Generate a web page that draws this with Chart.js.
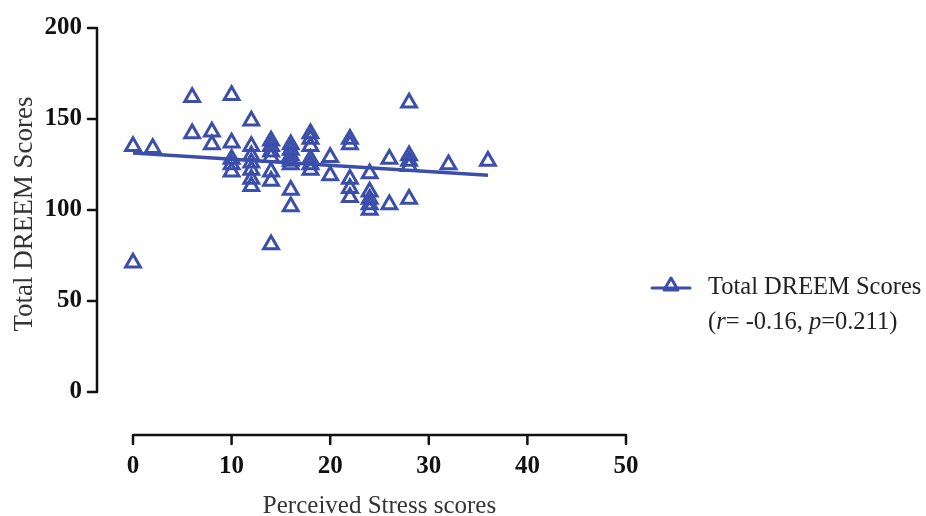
<!DOCTYPE html>
<html>
<head>
    <title>Total DREEM Scores vs Perceived Stress scores</title>
    <script src="https://cdn.jsdelivr.net/npm/chart.js"></script>
    <style>
        html, body { margin: 0; padding: 0; background: #fff; }
    </style>
</head>
<body>
    <canvas id="scatterChart" width="926" height="516"></canvas>

    <script>
        // Values (one entry per student)
        const stressScores = [
            0, 0,
            2,
            6, 6,
            8, 8,
            10, 10, 10, 10, 10,
            12, 12, 12, 12, 12, 12, 12,
            14, 14, 14, 14, 14, 14, 14,
            16, 16, 16, 16, 16, 16, 16,
            18, 18, 18, 18, 18, 18,
            20, 20,
            22, 22, 22, 22, 22,
            24, 24, 24, 24, 24,
            26, 26,
            28, 28, 28, 28, 28,
            32,
            36
        ];
        const dreemScores = [
            135, 71,
            134,
            162, 142,
            143, 136,
            163, 137, 128, 125, 121,
            149, 135, 130, 126, 122, 117, 113,
            138, 135, 132, 129, 121, 116, 81,
            136, 133, 130, 127, 125, 111, 102,
            142, 139, 135, 128, 125, 122,
            129, 119,
            139, 136, 117, 112, 107,
            120, 110, 106, 103, 100,
            128, 103,
            159, 130, 127, 124, 106,
            125,
            127
        ];

        // Regression line ends
        const fitX = [0, 36];
        const fitY = [131.3, 119.1];

        const xTicks = [0, 10, 20, 30, 40, 50];
        const yTicks = [0, 50, 100, 150, 200];

        const xTitle = "Perceived Stress scores";
        const yTitle = "Total DREEM Scores";
        const seriesName = "Total DREEM Scores";
        const statR = "-0.16";
        const statP = "0.211";

        const blue = "rgb(58, 78, 170)";
        const serif = "'Liberation Serif', 'Times New Roman', serif";

        const points = stressScores.map((s, i) => ({ x: s, y: dreemScores[i] }));
        const fitLine = fitX.map((s, i) => ({ x: s, y: fitY[i] }));

        // Prism-style detached axes, axis titles and legend
        const decorPlugin = {
            id: "decor",
            afterDraw(chart) {
                const ctx = chart.ctx;
                const x = chart.scales.x;
                const y = chart.scales.y;
                ctx.save();

                ctx.strokeStyle = "#111";
                ctx.lineWidth = 2.5;
                ctx.lineJoin = "round";
                ctx.lineCap = "round";

                // y axis
                const ax = x.left;
                const yTop = y.getPixelForValue(yTicks[yTicks.length - 1]);
                const yBot = y.getPixelForValue(yTicks[0]);
                ctx.beginPath();
                ctx.moveTo(ax - 9, yTop);
                ctx.lineTo(ax, yTop);
                ctx.lineTo(ax, yBot);
                ctx.lineTo(ax - 9, yBot);
                yTicks.slice(1, -1).forEach(v => {
                    const p = y.getPixelForValue(v);
                    ctx.moveTo(ax - 9, p);
                    ctx.lineTo(ax, p);
                });
                ctx.stroke();

                // x axis
                const ay = y.bottom;
                const xL = x.getPixelForValue(xTicks[0]);
                const xR = x.getPixelForValue(xTicks[xTicks.length - 1]);
                ctx.beginPath();
                ctx.moveTo(xL, ay + 9);
                ctx.lineTo(xL, ay);
                ctx.lineTo(xR, ay);
                ctx.lineTo(xR, ay + 9);
                xTicks.slice(1, -1).forEach(v => {
                    const p = x.getPixelForValue(v);
                    ctx.moveTo(p, ay);
                    ctx.lineTo(p, ay + 9);
                });
                ctx.stroke();

                // axis titles
                ctx.fillStyle = "#333";
                ctx.textAlign = "center";
                ctx.textBaseline = "middle";
                ctx.font = "25px " + serif;
                ctx.fillText(xTitle, (xL + xR) / 2, 506);

                ctx.save();
                ctx.translate(25, 214);
                ctx.rotate(-Math.PI / 2);
                ctx.font = "27px " + serif;
                ctx.fillText(yTitle, 0, 0);
                ctx.restore();

                // legend
                const lx = 652, ly = 288;
                ctx.strokeStyle = blue;
                ctx.lineWidth = 3;
                ctx.beginPath();
                ctx.moveTo(lx, ly);
                ctx.lineTo(lx + 38, ly);
                ctx.stroke();
                const cx = lx + 19, cy = ly - 2, r = 8;
                ctx.beginPath();
                ctx.moveTo(cx, cy - r);
                ctx.lineTo(cx + Math.sin(2 * Math.PI / 3) * r, cy + r / 2);
                ctx.lineTo(cx - Math.sin(2 * Math.PI / 3) * r, cy + r / 2);
                ctx.closePath();
                ctx.stroke();

                ctx.fillStyle = "#222";
                ctx.textAlign = "left";
                ctx.font = "24.5px " + serif;
                ctx.fillText(seriesName, 708, ly);

                const parts = [
                    ["(", false], ["r", true], ["= " + statR + ", ", false],
                    ["p", true], ["=" + statP + ")", false]
                ];
                let tx = 708;
                parts.forEach(([txt, italic]) => {
                    ctx.font = (italic ? "italic " : "") + "24.5px " + serif;
                    ctx.fillText(txt, tx, ly + 35);
                    tx += ctx.measureText(txt).width;
                });

                ctx.restore();
            }
        };

        const ctx = document.getElementById("scatterChart").getContext("2d");

        new Chart(ctx, {
            type: "scatter",
            data: {
                datasets: [
                    {
                        label: seriesName,
                        data: points,
                        pointStyle: "triangle",
                        pointRadius: 8.5,
                        pointHoverRadius: 8.5,
                        pointBorderWidth: 3,
                        borderColor: blue,
                        backgroundColor: "rgba(0,0,0,0)",
                    },
                    {
                        type: "line",
                        label: "fit",
                        data: fitLine,
                        borderColor: blue,
                        borderWidth: 3.5,
                        pointRadius: 0,
                        fill: false,
                    },
                ],
            },
            options: {
                responsive: false,
                animation: false,
                devicePixelRatio: 1,
                layout: { padding: { top: 28, right: 300, bottom: 0, left: 0 } },
                plugins: {
                    legend: { display: false },
                    tooltip: { enabled: false },
                },
                scales: {
                    x: {
                        type: "linear",
                        min: -3.65,
                        max: 50,
                        grid: { display: false },
                        border: { display: false },
                        afterBuildTicks: s => { s.ticks = xTicks.map(v => ({ value: v })); },
                        afterFit: s => { s.height = 81; },
                        ticks: {
                            autoSkip: false,
                            maxRotation: 0,
                            padding: 9,
                            color: "#111",
                            font: { family: serif, size: 25, weight: "bold" },
                        },
                    },
                    y: {
                        type: "linear",
                        min: -23.6,
                        max: 200,
                        grid: { display: false },
                        border: { display: false },
                        afterBuildTicks: s => { s.ticks = yTicks.map(v => ({ value: v })); },
                        afterFit: s => { s.width = 97; },
                        ticks: {
                            autoSkip: false,
                            padding: 7,
                            color: "#111",
                            font: { family: serif, size: 25, weight: "bold" },
                        },
                    },
                },
            },
            plugins: [decorPlugin],
        });
    </script>
</body>
</html>
